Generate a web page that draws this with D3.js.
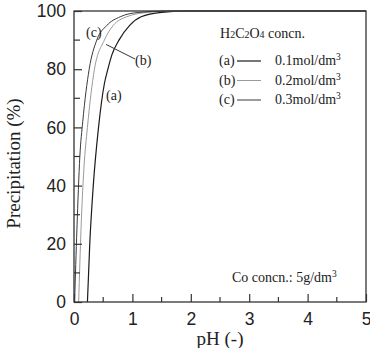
<!DOCTYPE html>
<html><head><meta charset="utf-8">
<script src="https://cdn.jsdelivr.net/npm/d3@7"></script>
<style>body{margin:0;background:#fff}svg{display:block}</style>
</head><body><svg id="c" width="370" height="348"></svg>
<script>
// Data (pH, precipitation %)
const seriesNames = ["(a)", "(b)", "(c)"];
const legendLabels = ["0.1mol/dm", "0.2mol/dm", "0.3mol/dm"];
const curveA = [[0.23,0],[0.27,20],[0.33,40],[0.42,60],[0.52,75],[0.58,80],[0.65,85],[0.77,90],[0.95,95],[1.15,98],[1.5,99.5],[2.0,100],[5,100]];
const curveB = [[0.08,0],[0.12,25],[0.17,46],[0.23,60],[0.35,80],[0.52,90],[0.67,95],[0.9,98],[1.25,99.5],[1.7,100],[5,100]];
const curveC = [[0.01,0],[0.05,25],[0.1,50],[0.15,62],[0.26,80],[0.39,90],[0.56,95],[0.79,98],[1.1,99.5],[1.6,100],[5,100]];
const xTicks = [0,1,2,3,4,5];
const yTicks = [0,20,40,60,80,100];

const svg = d3.select("#c");
const L=74, R=366, T=11, B=302;
const x = d3.scaleLinear().domain([0,5]).range([L,R]);
const y = d3.scaleLinear().domain([0,100]).range([B,T]);

const curves = [curveA, curveB, curveC];
const colors = ["#1a1a1a", "#9a9a9a", "#3a3a3a"];
const widths = [1.2, 1.0, 1.0];
const line = d3.line().x(d=>x(d[0])).y(d=>y(d[1])).curve(d3.curveMonotoneX);
curves.forEach((c,i)=>{
  svg.append("path").attr("d", line(c)).attr("fill","none")
    .attr("stroke", colors[i]).attr("stroke-width", widths[i]);
});

// frame
svg.append("rect").attr("x",L).attr("y",T).attr("width",R-L).attr("height",B-T)
  .attr("fill","none").attr("stroke","#333").attr("stroke-width",1.3);

// ticks (inward)
const xAxis = d3.axisBottom(x).tickValues(xTicks).tickSize(-8).tickPadding(11).tickFormat(d3.format("d"));
const gx = svg.append("g").attr("transform",`translate(0,${B})`).call(xAxis);
const yAxis = d3.axisLeft(y).tickValues(yTicks).tickSize(-8).tickPadding(8);
const gy = svg.append("g").attr("transform",`translate(${L},0)`).call(yAxis);
[gx,gy].forEach(g=>{
  g.select(".domain").remove();
  g.selectAll("line").attr("stroke","#333").attr("stroke-width",1.2);
  g.selectAll("text").attr("font-family","Liberation Sans, Arial, sans-serif").attr("font-size",17.5).attr("fill","#222");
});
// minor ticks
const xMinor = d3.range(0.5,5,1);
svg.append("g").selectAll("line").data(xMinor).join("line")
  .attr("x1",d=>x(d)).attr("x2",d=>x(d)).attr("y1",B).attr("y2",B-5)
  .attr("stroke","#333").attr("stroke-width",1.2);
const yMinor = d3.range(10,100,20);
svg.append("g").selectAll("line").data(yMinor).join("line")
  .attr("x1",L).attr("x2",L+6).attr("y1",d=>y(d)).attr("y2",d=>y(d))
  .attr("stroke","#333").attr("stroke-width",1.2);

const serif = "Liberation Serif, Times New Roman, serif";
// axis titles
svg.append("text").attr("x",x(2.5)).attr("y",345).attr("text-anchor","middle")
  .attr("font-family",serif).attr("font-size",19).attr("fill","#222").text("pH (-)");
svg.append("text").attr("transform",`translate(20,${(T+B)/2+7}) rotate(-90)`).attr("text-anchor","middle")
  .attr("font-family",serif).attr("font-size",19).attr("fill","#222").text("Precipitation (%)");

// curve labels
const lab = (t,px,py)=>svg.append("text").attr("x",px).attr("y",py).attr("font-family",serif)
  .attr("font-size",14).attr("fill","#222").text(t);
lab(seriesNames[2], 86, 37);
lab(seriesNames[1], 135, 65);
lab(seriesNames[0], 106, 100);
svg.append("line").attr("x1",x(0.55)).attr("y1",y(88.5)).attr("x2",135).attr("y2",59)
  .attr("stroke","#333").attr("stroke-width",1);

// legend
const lg = svg.append("g").attr("font-family",serif).attr("font-size",14).attr("fill","#222");
const title = lg.append("text").attr("x",220).attr("y",38);
[["H",0],["2",1],["C",0],["2",1],["O",0],["4",1],[" concn.",0]].forEach(([t,s])=>{
  title.append("tspan").attr("font-size",s?10:14).text(t);
});
legendLabels.forEach((t,i)=>{
  const yy = 61 + i*19.5;
  lg.append("text").attr("x",219).attr("y",yy+4).text(seriesNames[i]);
  lg.append("line").attr("x1",237).attr("x2",261).attr("y1",yy).attr("y2",yy)
    .attr("stroke",colors[i]).attr("stroke-width",widths[i]);
  const tx = lg.append("text").attr("x",275).attr("y",yy+4);
  tx.append("tspan").text(t);
  tx.append("tspan").attr("font-size",9.5).attr("dy",-5).text("3");
});
const co = lg.append("text").attr("x",232).attr("y",282);
co.append("tspan").text("Co concn.: 5g/dm");
co.append("tspan").attr("font-size",9.5).attr("dy",-5).text("3");
</script></body></html>
